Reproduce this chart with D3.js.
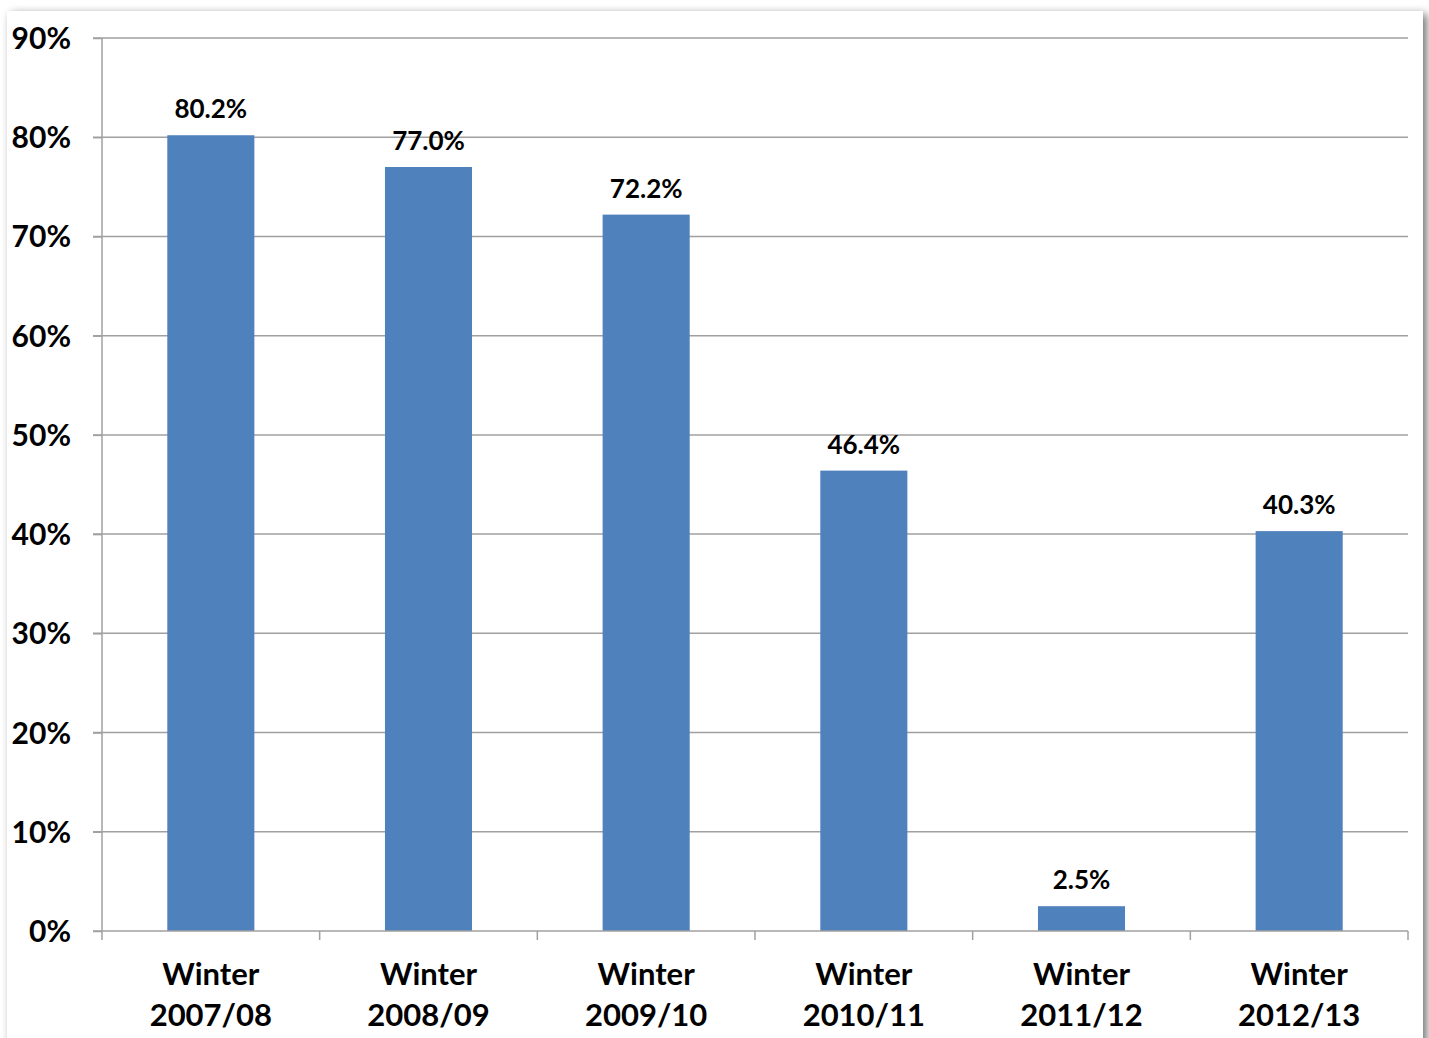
<!DOCTYPE html>
<html><head><meta charset="utf-8">
<script src="https://cdn.jsdelivr.net/npm/d3@7"></script>
<style>
html,body{margin:0;padding:0;background:#fff;}
svg{display:block;}
text{font-family:Lato,"Open Sans",sans-serif;font-weight:bold;fill:#000;}
</style></head><body>
<svg id="c" width="1429" height="1038"></svg>
<script>
const categories = ["Winter 2007/08","Winter 2008/09","Winter 2009/10","Winter 2010/11","Winter 2011/12","Winter 2012/13"];
const values = [80.2, 77.0, 72.2, 46.4, 2.5, 40.3];
const yTicks = [0,10,20,30,40,50,60,70,80,90];

(function(){
const svg = d3.select("#c");
const defs = svg.append("defs");
const f = defs.append("filter").attr("id","sh").attr("x","-5%").attr("y","-5%").attr("width","110%").attr("height","110%");
f.append("feGaussianBlur").attr("in","SourceAlpha").attr("stdDeviation",5).attr("result","b");
f.append("feOffset").attr("in","b").attr("dx",4).attr("dy",3).attr("result","o");
f.append("feComponentTransfer").attr("in","o").attr("result","o2").append("feFuncA").attr("type","linear").attr("slope",0.55);
const m = f.append("feMerge"); m.append("feMergeNode").attr("in","o2"); m.append("feMergeNode").attr("in","SourceGraphic");

svg.append("rect").attr("x",7).attr("y",11).attr("width",1416).attr("height",1040).attr("fill","#fff").attr("filter","url(#sh)");

const pL=102, pR=1408, pT=38, pB=931;
const x = d3.scaleBand().domain(categories).range([pL,pR]).paddingInner(0.6).paddingOuter(0.3);
const xb = d3.scaleBand().domain(categories).range([pL,pR]).padding(0);
const y = d3.scaleLinear().domain([0,90]).range([pB,pT]);

svg.append("g").selectAll("line").data(yTicks.filter(d=>d>0)).join("line")
  .attr("x1",pL-9).attr("x2",pR).attr("y1",d=>y(d)).attr("y2",d=>y(d))
  .attr("stroke","#a0a0a0").attr("stroke-width",1.5);

svg.append("g").selectAll("rect").data(values).join("rect")
  .attr("x",(d,i)=>x(categories[i])).attr("width",x.bandwidth())
  .attr("y",d=>y(d)).attr("height",d=>y(0)-y(d)).attr("fill","#4F81BD");

const ya = d3.axisLeft(y).tickValues(yTicks).tickFormat(d=>d+"%").tickSize(9).tickPadding(22);
const gy = svg.append("g").attr("transform",`translate(${pL},0)`).call(ya);
gy.select(".domain").attr("stroke","#a0a0a0").attr("stroke-width",1.5).attr("d",`M0,${pT}V${pB}`);
gy.selectAll(".tick line").attr("stroke","#a0a0a0").attr("stroke-width",1.5);
gy.selectAll(".tick text").attr("font-size",30).attr("font-family","Lato,'Open Sans',sans-serif").attr("font-weight","bold").attr("fill","#000").attr("dy","0.35em").attr("x",-31);

svg.append("line").attr("x1",pL-9).attr("x2",pR).attr("y1",pB).attr("y2",pB).attr("stroke","#a0a0a0").attr("stroke-width",1.5);
const bounds = categories.map(c=>xb(c)).concat([pR]);
svg.append("g").selectAll("line").data(bounds).join("line")
  .attr("x1",d=>d).attr("x2",d=>d).attr("y1",pB).attr("y2",pB+9)
  .attr("stroke","#a0a0a0").attr("stroke-width",1.5);

const cl = svg.append("g").selectAll("text").data(categories).join("text")
  .attr("text-anchor","middle").attr("font-size",31);
cl.append("tspan").attr("x",d=>xb(d)+xb.bandwidth()/2).attr("y",985).text(d=>d.split(" ")[0]);
cl.append("tspan").attr("x",d=>xb(d)+xb.bandwidth()/2).attr("y",1026).text(d=>d.split(" ")[1]);

svg.append("g").selectAll("text").data(values).join("text")
  .attr("text-anchor","middle").attr("font-size",26)
  .attr("x",(d,i)=>x(categories[i])+x.bandwidth()/2).attr("y",d=>y(d)-17)
  .text(d=>d.toFixed(1)+"%");
})();
</script></body></html>
